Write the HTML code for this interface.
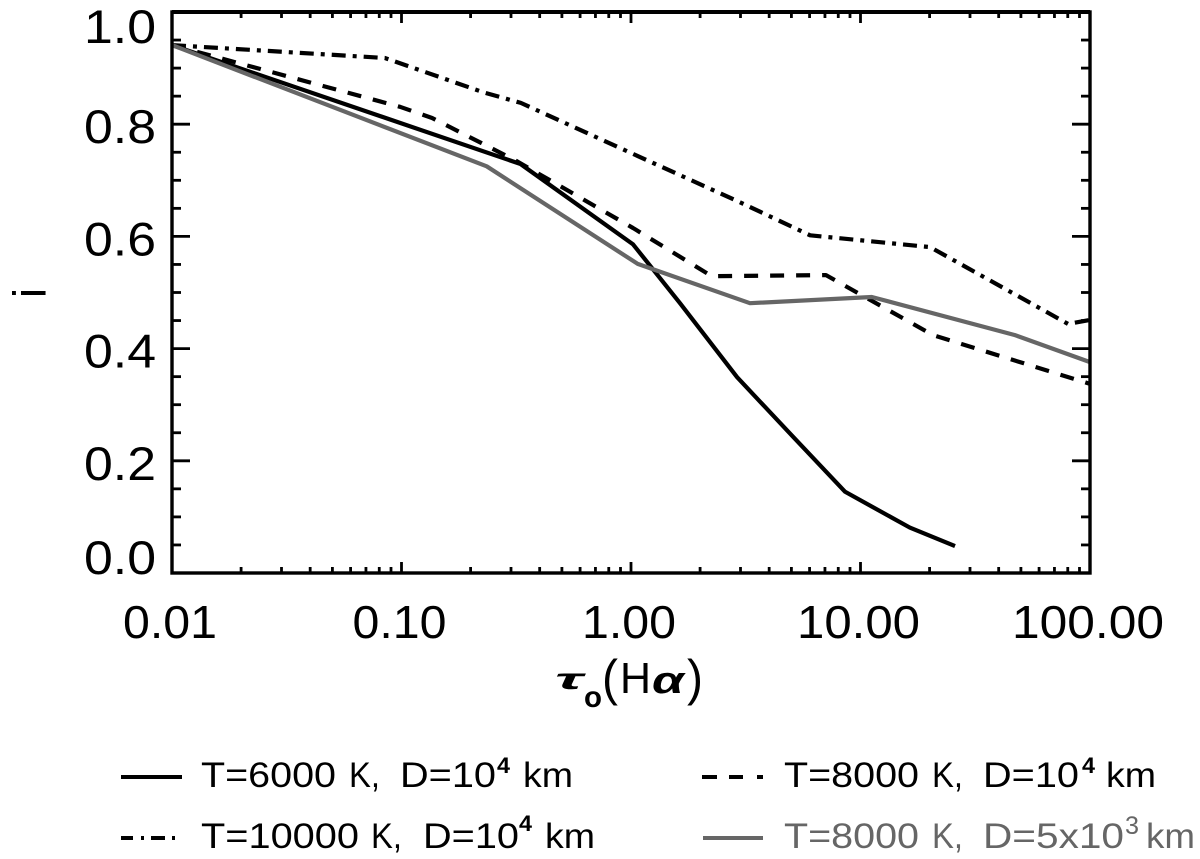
<!DOCTYPE html>
<html lang="en">
<head>
<meta charset="utf-8">
<title>Line chart of i against tau0(H-alpha)</title>
<style>
html,body{margin:0;padding:0;background:#fff;}
#chart{display:block;width:1200px;height:859px;}
text{font-family:"Liberation Sans",sans-serif;fill:#000;}
</style>
</head>
<body>
<svg id="chart" xmlns="http://www.w3.org/2000/svg" width="1200" height="859" viewBox="0 0 1200 859">
  <g id="axes"></g>
  <g id="series"></g>
  <rect x="172" y="12" width="918" height="561" fill="none" stroke="#000" stroke-width="3.4"/>
  <line x1="172" y1="12" x2="1090" y2="12" stroke="#000" stroke-width="4"/>
  <g id="labels"></g>

  <text x="33.5" y="293" font-size="46" text-anchor="middle" dominant-baseline="middle" transform="rotate(-90 33.5 293)">i</text>

  <g>
    <text x="555" y="689" font-size="30" font-weight="bold" font-style="italic" textLength="28" lengthAdjust="spacingAndGlyphs">τ</text>
    <text x="584" y="707" font-size="30" font-weight="bold" textLength="18" lengthAdjust="spacingAndGlyphs">o</text>
    <text x="602" y="695" font-size="50" textLength="16" lengthAdjust="spacingAndGlyphs">(</text>
    <text x="620" y="693" font-size="44" textLength="31" lengthAdjust="spacingAndGlyphs">H</text>
    <text x="652" y="693" font-size="38" font-weight="bold" font-style="italic" textLength="32" lengthAdjust="spacingAndGlyphs">α</text>
    <text x="687" y="695" font-size="50" textLength="16" lengthAdjust="spacingAndGlyphs">)</text>
  </g>

  <g>
    <g>
      <line x1="121" y1="777" x2="182" y2="777" stroke="#000" stroke-width="4"/>
      <text x="201" y="787" font-size="35" textLength="135" lengthAdjust="spacingAndGlyphs">T=6000</text>
      <text x="349" y="787" font-size="35" textLength="31" lengthAdjust="spacingAndGlyphs">K,</text>
      <text x="400" y="787" font-size="35" textLength="96" lengthAdjust="spacingAndGlyphs">D=10</text>
      <text x="497" y="773" font-size="22" font-weight="bold" textLength="13" lengthAdjust="spacingAndGlyphs">4</text>
      <text x="523" y="787" font-size="35" textLength="50" lengthAdjust="spacingAndGlyphs">km</text>
    </g>
    <g>
      <path d="M702 777H717M729 777H743M757 777H763" fill="none" stroke="#000" stroke-width="4"/>
      <text x="784" y="787" font-size="35" textLength="135" lengthAdjust="spacingAndGlyphs">T=8000</text>
      <text x="932" y="787" font-size="35" textLength="31" lengthAdjust="spacingAndGlyphs">K,</text>
      <text x="983" y="787" font-size="35" textLength="96" lengthAdjust="spacingAndGlyphs">D=10</text>
      <text x="1082" y="773" font-size="22" font-weight="bold" textLength="13" lengthAdjust="spacingAndGlyphs">4</text>
      <text x="1106" y="787" font-size="35" textLength="50" lengthAdjust="spacingAndGlyphs">km</text>
    </g>
    <g>
      <path d="M121 838H133M141 838H144M151 838H165M172 838H175" fill="none" stroke="#000" stroke-width="4"/>
      <text x="201" y="848" font-size="35" textLength="158" lengthAdjust="spacingAndGlyphs">T=10000</text>
      <text x="371" y="848" font-size="35" textLength="31" lengthAdjust="spacingAndGlyphs">K,</text>
      <text x="423" y="848" font-size="35" textLength="96" lengthAdjust="spacingAndGlyphs">D=10</text>
      <text x="519" y="831" font-size="22" font-weight="bold" textLength="13" lengthAdjust="spacingAndGlyphs">4</text>
      <text x="545" y="848" font-size="35" textLength="50" lengthAdjust="spacingAndGlyphs">km</text>
    </g>
    <g>
      <line x1="703" y1="838" x2="763" y2="838" stroke="#666" stroke-width="4"/>
      <text x="784" y="848" font-size="35" textLength="135" lengthAdjust="spacingAndGlyphs" style="fill:#666">T=8000</text>
      <text x="932" y="848" font-size="35" textLength="31" lengthAdjust="spacingAndGlyphs" style="fill:#666">K,</text>
      <text x="983" y="848" font-size="35" textLength="141" lengthAdjust="spacingAndGlyphs" style="fill:#666">D=5x10</text>
      <text x="1125" y="834" font-size="25" textLength="14" lengthAdjust="spacingAndGlyphs" style="fill:#666">3</text>
      <text x="1146" y="848" font-size="35" textLength="49" lengthAdjust="spacingAndGlyphs" style="fill:#666">km</text>
    </g>
  </g>
</svg>
<script>
const xTickValues = [0.01, 0.1, 1, 10, 100];
const xTickLabels = ["0.01", "0.10", "1.00", "10.00", "100.00"];
const xMinorMultipliers = [2, 3, 4, 5, 6, 7, 8, 9];
const yTickValues = [0, 0.2, 0.4, 0.6, 0.8, 1.0];
const yTickLabels = ["0.0", "0.2", "0.4", "0.6", "0.8", "1.0"];
const yMinorValues = [0.05, 0.1, 0.15, 0.25, 0.3, 0.35, 0.45, 0.5, 0.55, 0.65, 0.7, 0.75, 0.85, 0.9, 0.95];

const t6000Tau = [0.01, 0.33, 1.02, 1.635, 2.9, 5.08, 8.56, 16.4, 25.8];
const t6000Val = [0.941, 0.729, 0.586, 0.481, 0.349, 0.243, 0.145, 0.081, 0.048];
const t8000Tau = [0.01, 0.0985, 0.136, 0.312, 1.02, 2.25, 7.07, 20.7, 100];
const t8000Val = [0.941, 0.831, 0.811, 0.736, 0.615, 0.529, 0.531, 0.424, 0.337];
const t10000Tau = [0.01, 0.0847, 0.2265, 0.331, 1.02, 2.98, 6.03, 20.1, 80.2, 100];
const t10000Val = [0.941, 0.918, 0.857, 0.838, 0.747, 0.661, 0.602, 0.581, 0.444, 0.451];
const t8000d5Tau = [0.01, 0.235, 1.07, 3.3, 11.2, 47.1, 100];
const t8000d5Val = [0.941, 0.725, 0.551, 0.481, 0.492, 0.424, 0.376];

const SVGNS = "http://www.w3.org/2000/svg";
const PLOT_LEFT = 172, PLOT_RIGHT = 1090, PLOT_TOP = 12, PLOT_BOTTOM = 573;
const axes = document.getElementById("axes");
const labels = document.getElementById("labels");
const seriesGroup = document.getElementById("series");

function sx(t) { return PLOT_LEFT + (PLOT_RIGHT - PLOT_LEFT) * (Math.log10(t) + 2) / 4; }
function sy(v) { return PLOT_BOTTOM - (PLOT_BOTTOM - PLOT_TOP) * v; }

function tickLine(x1, y1, x2, y2) {
  const el = document.createElementNS(SVGNS, "line");
  el.setAttribute("x1", x1);
  el.setAttribute("y1", y1);
  el.setAttribute("x2", x2);
  el.setAttribute("y2", y2);
  el.setAttribute("stroke", "#000");
  el.setAttribute("stroke-width", "2.8");
  axes.appendChild(el);
  return el;
}

xTickValues.forEach(function (t, i) {
  const x = sx(t);
  const lo = tickLine(x, PLOT_BOTTOM, x, PLOT_BOTTOM - 11);
  
  
  const hi = tickLine(x, PLOT_TOP, x, PLOT_TOP + 11);
  
  
  if (i < xTickValues.length - 1) {
    xMinorMultipliers.forEach(function (m) {
      const mx = sx(t * m);
      const a = tickLine(mx, PLOT_BOTTOM, mx, PLOT_BOTTOM - 6);
      
      
      const b = tickLine(mx, PLOT_TOP, mx, PLOT_TOP + 6);
      
      
    });
  }
});

yTickValues.forEach(function (v) {
  const y = sy(v);
  const a = tickLine(PLOT_LEFT, y, PLOT_LEFT + 18, y);
  
  
  const b = tickLine(PLOT_RIGHT, y, PLOT_RIGHT - 18, y);
  
  
});
yMinorValues.forEach(function (v) {
  const y = sy(v);
  const a = tickLine(PLOT_LEFT, y, PLOT_LEFT + 9, y);
  
  
  const b = tickLine(PLOT_RIGHT, y, PLOT_RIGHT - 9, y);
  
  
});

xTickLabels.forEach(function (s, i) {
  const el = document.createElementNS(SVGNS, "text");
  el.textContent = s;
  el.setAttribute("x", sx(xTickValues[i]) - 2);
  el.setAttribute("y", 638);
  el.setAttribute("font-size", "46");
  el.setAttribute("text-anchor", "middle");
  el.setAttribute("textLength", 29 * (s.length - 1) + 7);
  el.setAttribute("lengthAdjust", "spacingAndGlyphs");
  
  
  labels.appendChild(el);
});
yTickLabels.forEach(function (s, i) {
  const el = document.createElementNS(SVGNS, "text");
  el.textContent = s;
  el.setAttribute("x", 156);
  el.setAttribute("y", Math.max(43, Math.min(sy(yTickValues[i]) + 19, 574)));
  el.setAttribute("font-size", "47");
  el.setAttribute("text-anchor", "end");
  el.setAttribute("textLength", 72);
  el.setAttribute("lengthAdjust", "spacingAndGlyphs");
  
  
  labels.appendChild(el);
});

function drawSeries(taus, vals, color, dash) {
  const el = document.createElementNS(SVGNS, "polyline");
  el.setAttribute("points", taus.map(function (t, i) { return sx(t).toFixed(1) + "," + sy(vals[i]).toFixed(1); }).join(" "));
  el.setAttribute("fill", "none");
  el.setAttribute("stroke", color);
  el.setAttribute("stroke-width", "4.2");
  el.setAttribute("stroke-linejoin", "round");
  if (dash) el.setAttribute("stroke-dasharray", dash);
  seriesGroup.appendChild(el);
  return el;
}

const s1 = drawSeries(t10000Tau, t10000Val, "#000", "14 7 4 7");


const s2 = drawSeries(t8000Tau, t8000Val, "#000", "14 12");


const s3 = drawSeries(t6000Tau, t6000Val, "#000", null);


const s4 = drawSeries(t8000d5Tau, t8000d5Val, "#666", null);


</script>
</body>
</html>
